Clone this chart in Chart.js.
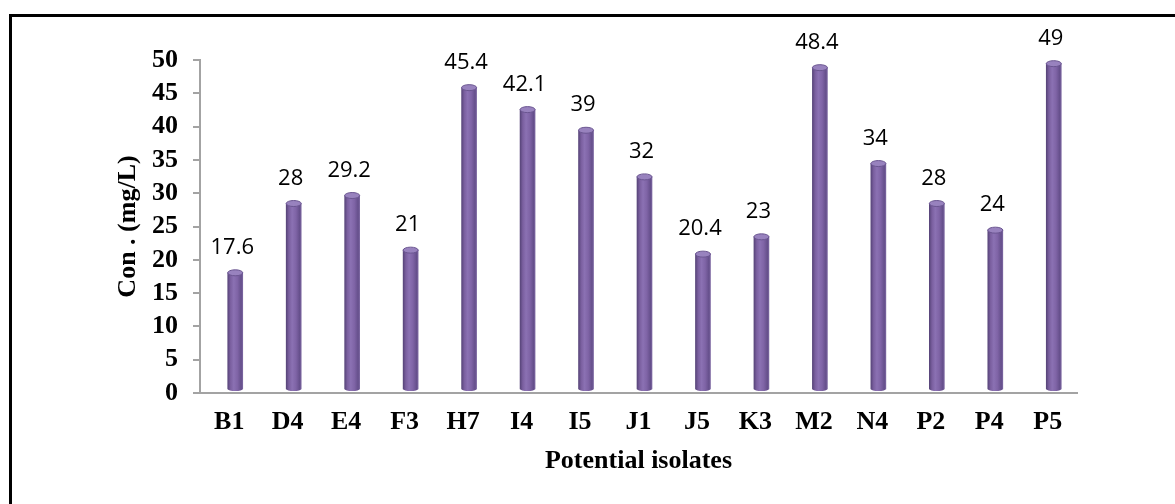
<!DOCTYPE html>
<html>
<head>
<meta charset="utf-8">
<script src="https://cdn.jsdelivr.net/npm/chart.js@4.4.1/dist/chart.umd.min.js"></script>
<style>
  html, body { margin: 0; padding: 0; background: #fff; overflow: hidden; }
</style>
</head>
<body>
<canvas id="chart" width="1175" height="504"></canvas>
<script>
// data
const isolates = ['B1', 'D4', 'E4', 'F3', 'H7', 'I4', 'I5', 'J1', 'J5', 'K3', 'M2', 'N4', 'P2', 'P4', 'P5'];
const concentrations = [17.6, 28, 29.2, 21, 45.4, 42.1, 39, 32, 20.4, 23, 48.4, 34, 28, 24, 49];
const yTicks = [0, 5, 10, 15, 20, 25, 30, 35, 40, 45, 50];

// look of the 3D cylinder bars
const BAR_W = 15;
const BAR_DX = 6;   // depth offset of the 3D bars
const BAR_DY = -3;
const serif = '"Times New Roman", "Liberation Serif", serif';
const axisGrey = '#a3a3a3';

function cylinderFill(context) {
    const chart = context.chart;
    const xScale = chart.scales.x;
    if (!xScale || context.dataIndex === undefined) return '#8064a2';
    const cx = xScale.getPixelForValue(context.dataIndex);
    if (!Number.isFinite(cx)) return '#8064a2';
    const g = chart.ctx.createLinearGradient(cx - BAR_W / 2, 0, cx + BAR_W / 2, 0);
    g.addColorStop(0, '#58457a');
    g.addColorStop(0.18, '#7a5f9f');
    g.addColorStop(0.4, '#8b71b3');
    g.addColorStop(0.65, '#7f64a6');
    g.addColorStop(0.9, '#654f8b');
    g.addColorStop(1, '#7b66a0');
    return g;
}

const cylinderPlugin = {
    id: 'cylinder',
    beforeDatasetsDraw(chart) {
        chart.ctx.save();
        chart.ctx.translate(BAR_DX, BAR_DY);
    },
    afterDatasetsDraw(chart) {
        const ctx = chart.ctx;
        const bars = chart.getDatasetMeta(0).data;
        bars.forEach(bar => {
            // rounded bottom
            ctx.beginPath();
            ctx.ellipse(bar.x, bar.base, BAR_W / 2, 2, 0, 0, Math.PI);
            ctx.fillStyle = bar.options.backgroundColor;
            ctx.fill();
            // top cap
            ctx.beginPath();
            ctx.ellipse(bar.x, bar.y, BAR_W / 2, 3, 0, 0, 2 * Math.PI);
            ctx.fillStyle = '#9882be';
            ctx.fill();
            ctx.strokeStyle = '#6a5590';
            ctx.lineWidth = 1;
            ctx.stroke();
        });
        ctx.restore();

        // value labels above the bars
        ctx.save();
        ctx.font = '22px "Open Sans", "Liberation Sans", sans-serif';
        ctx.fillStyle = '#000';
        ctx.textAlign = 'center';
        ctx.textBaseline = 'alphabetic';
        bars.forEach((bar, i) => {
            ctx.fillText(String(concentrations[i]), bar.x + 3, bar.y + BAR_DY - 19);
        });
        ctx.restore();
    }
};

const framePlugin = {
    id: 'frame',
    afterDraw(chart) {
        const ctx = chart.ctx;
        ctx.save();
        ctx.fillStyle = '#000';
        ctx.fillRect(9, 14, 3, chart.height);
        ctx.fillRect(9, 14, chart.width, 3);
        ctx.restore();
    }
};

const ctx = document.getElementById('chart').getContext('2d');

new Chart(ctx, {
    type: 'bar',
    data: {
        labels: isolates,
        datasets: [{
            label: 'Con . (mg/L)',
            data: concentrations,
            backgroundColor: cylinderFill,
            borderWidth: 0,
            barThickness: BAR_W
        }]
    },
    options: {
        responsive: false,
        animation: false,
        layout: {
            padding: { left: 0, top: 60, right: 98, bottom: 0 }
        },
        plugins: {
            legend: { display: false },
            tooltip: { enabled: false }
        },
        scales: {
            x: {
                afterFit(scale) { scale.height = 111; },
                grid: { display: false, drawTicks: false },
                border: { display: true, color: axisGrey, width: 2 },
                ticks: {
                    color: '#000',
                    padding: 14,
                    autoSkip: false,
                    maxRotation: 0,
                    font: { family: serif, size: 26, weight: 'bold' }
                },
                title: {
                    display: true,
                    text: 'Potential isolates',
                    color: '#000',
                    padding: { top: 27, bottom: 27 },
                    font: { family: serif, size: 26, weight: 'bold' }
                }
            },
            y: {
                min: 0,
                max: 50,
                afterFit(scale) { scale.width = 200; },
                afterBuildTicks(scale) { scale.ticks = yTicks.map(v => ({ value: v })); },
                grid: {
                    drawOnChartArea: false,
                    drawTicks: true,
                    tickLength: 7,
                    color: axisGrey,
                    lineWidth: 2
                },
                border: { display: true, color: axisGrey, width: 2 },
                ticks: {
                    color: '#000',
                    padding: 15,
                    autoSkip: false,
                    font: { family: serif, size: 26, weight: 'bold' }
                },
                title: {
                    display: true,
                    text: 'Con . (mg/L)',
                    color: '#000',
                    padding: { top: 113, bottom: 113 },
                    font: { family: serif, size: 26, weight: 'bold' }
                }
            }
        }
    },
    plugins: [cylinderPlugin, framePlugin]
});
</script>
</body>
</html>
